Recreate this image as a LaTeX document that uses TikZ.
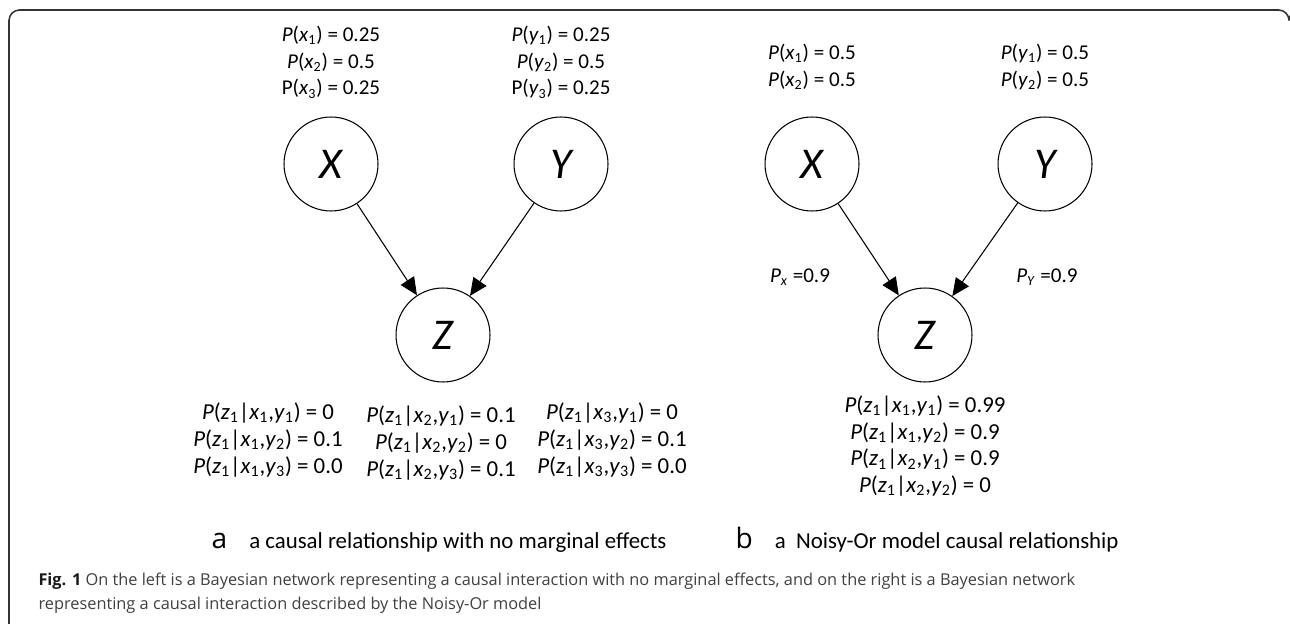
\documentclass[tikz,border=0pt]{standalone}
\usepackage{fontspec}
\setmainfont{Carlito}
\newfontfamily\capfont{Open Sans}
\usetikzlibrary{arrows.meta,positioning}
\newcommand{\pr}[2]{\textit{P}(\textit{#1}\textsubscript{#2})}
\newcommand{\pru}[2]{P(\textit{#1}\textsubscript{#2})}
\newcommand{\cz}[3]{\textit{P}(\textit{z}\textsubscript{1}|\textit{x}\textsubscript{#1},\textit{y}\textsubscript{#2}) = #3}

\begin{document}
\begin{tikzpicture}[x=0.02cm,y=-0.02cm,>={Triangle[length=10pt,width=9pt]},line width=0.6pt,
 var/.style={draw,circle,minimum size=1.88cm,inner sep=0pt,font=\fontsize{25}{30}\selectfont\itshape},
 tbl/.style={align=center,font=\fontsize{12}{15.3}\selectfont},
 cpt/.style={align=center,font=\fontsize{13}{15.3}\selectfont},
 sub/.style={inner sep=0pt,font=\fontsize{13}{15}\selectfont},
 let/.style={inner sep=0pt,font=\capfont\fontsize{16}{18}\selectfont},
 fig/.style={anchor=base west,inner sep=0pt,text=black!75,font=\capfont\fontsize{9.3}{11}\selectfont}]
\useasboundingbox (0,0) rectangle (1290,624);
\draw[line width=0.9pt,black!80,rounded corners=6] (9,624) -- (9,10) -- (1289,10) -- (1289,16);
% a: no marginal effects
\node[var] (xa) at (331,164) {X};
\node[var] (ya) at (561,164) {Y};
\node[var] (za) at (443,335) {Z};
\node[tbl] (pxa) at (331,62) {\pr{x}{1} = 0.25\\ \pr{x}{2} = 0.5\\ \pru{x}{3} = 0.25};
\node[tbl] (pya) at (561,62) {\pr{y}{1} = 0.25\\ \pr{y}{2} = 0.5\\ \pru{y}{3} = 0.25};
\draw[->] (xa) -- (za);
\draw[->] (ya) -- (za);
\node[cpt] (pz1) at (268,440) {\cz{1}{1}{0}\\ \cz{1}{2}{0.1}\\ \cz{1}{3}{0.0}};
\node[cpt] (pz2) at (441,443) {\cz{2}{1}{0.1}\\ \cz{2}{2}{0}\\ \cz{2}{3}{0.1}};
\node[cpt] (pz3) at (612,440) {\cz{3}{1}{0}\\ \cz{3}{2}{0.1}\\ \cz{3}{3}{0.0}};
% b: noisy-or
\node[var] (xb) at (812,164) {X};
\node[var] (yb) at (1045,164) {Y};
\node[var] (zb) at (925,335) {Z};
\node[tbl] (pxb) at (812,67) {\pr{x}{1} = 0.5\\ \pr{x}{2} = 0.5};
\node[tbl] (pyb) at (1045,67) {\pr{y}{1} = 0.5\\ \pr{y}{2} = 0.5};
\draw[->] (xb) -- (zb);
\draw[->] (yb) -- (zb);
\node[tbl] (wx) at (800,277) {\textit{P}\textsubscript{\textit{x}} =0.9};
\node[tbl] (wy) at (1047,277) {\textit{P}\textsubscript{\textit{Y}} =0.9};
\node[cpt] (pzb) at (925,446) {\cz{1}{1}{0.99}\\ \cz{1}{2}{0.9}\\ \cz{2}{1}{0.9}\\ \cz{2}{2}{0}};
% sub captions
\node[sub,anchor=base east] (capa) at (667,548) {a causal relationship with no marginal effects};
\node[let,left=12pt of capa.base west,anchor=base east] (la) {a};
\node[let,anchor=base west] (lb) at (735,548) {b};
\node[sub,right=12pt of lb.base east,anchor=base west] (capb) {a\ \ Noisy-Or model causal relationship};
% figure caption
\node[fig] (cap1) at (38,585)
 {\textcolor{black!90}{\textbf{Fig. 1}} On the left is a Bayesian network representing a causal interaction with no marginal effects, and on the right is a Bayesian network};
\node[fig] (cap2) at (38,609) {representing a causal interaction described by the Noisy-Or model};
\end{tikzpicture}
\end{document}
